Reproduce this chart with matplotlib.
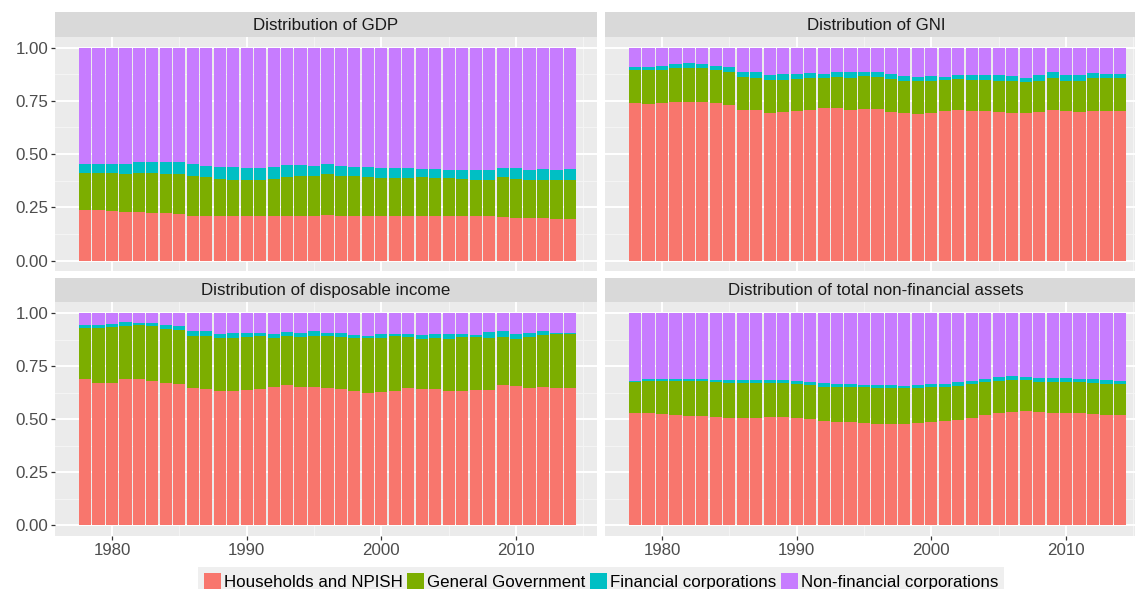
import matplotlib
matplotlib.use("Agg")
import matplotlib.pyplot as plt
from matplotlib.patches import Patch, Rectangle
import numpy as np

plt.rcParams['font.family'] = ['Liberation Sans', 'DejaVu Sans']

years = list(range(1978, 2015))
sectors = ["Households and NPISH", "General Government",
           "Financial corporations", "Non-financial corporations"]
colors = ["#F8766D", "#7CAE00", "#00BFC4", "#C77CFF"]
titles = ["Distribution of GDP", "Distribution of GNI",
          "Distribution of disposable income",
          "Distribution of total non-financial assets"]

# ---- Distribution of GDP
gdp_households = [0.239, 0.238, 0.233, 0.227, 0.227, 0.225, 0.222, 0.219, 0.211, 0.211,
                  0.207, 0.208, 0.208, 0.207, 0.208, 0.208, 0.211, 0.208, 0.213, 0.211,
                  0.211, 0.208, 0.208, 0.211, 0.208, 0.208, 0.208, 0.207, 0.207, 0.207,
                  0.207, 0.203, 0.200, 0.199, 0.199, 0.196, 0.194]
gdp_government = [0.174, 0.174, 0.179, 0.181, 0.186, 0.188, 0.186, 0.188, 0.185, 0.182,
                  0.176, 0.172, 0.171, 0.173, 0.177, 0.183, 0.185, 0.190, 0.191, 0.188,
                  0.185, 0.186, 0.180, 0.177, 0.180, 0.182, 0.180, 0.179, 0.178, 0.173,
                  0.173, 0.187, 0.185, 0.181, 0.181, 0.184, 0.186]
gdp_financial = [0.039, 0.040, 0.043, 0.047, 0.049, 0.052, 0.057, 0.055, 0.056, 0.053,
                 0.055, 0.058, 0.056, 0.055, 0.052, 0.057, 0.052, 0.046, 0.047, 0.045,
                 0.041, 0.043, 0.047, 0.045, 0.047, 0.042, 0.044, 0.041, 0.042, 0.046,
                 0.046, 0.043, 0.050, 0.047, 0.049, 0.047, 0.049]
gdp_nonfinancial = [0.548, 0.548, 0.545, 0.545, 0.538, 0.535, 0.535, 0.538, 0.548, 0.554,
                    0.562, 0.562, 0.565, 0.565, 0.563, 0.552, 0.552, 0.556, 0.549, 0.556,
                    0.563, 0.563, 0.565, 0.567, 0.565, 0.568, 0.568, 0.573, 0.573, 0.574,
                    0.574, 0.567, 0.565, 0.573, 0.571, 0.573, 0.571]

# ---- Distribution of GNI
gni_households = [0.740, 0.737, 0.739, 0.746, 0.746, 0.746, 0.739, 0.729, 0.709, 0.707,
                  0.693, 0.696, 0.704, 0.709, 0.714, 0.717, 0.709, 0.712, 0.711, 0.699,
                  0.693, 0.690, 0.694, 0.701, 0.709, 0.704, 0.701, 0.696, 0.694, 0.693,
                  0.696, 0.709, 0.701, 0.696, 0.704, 0.701, 0.701]
gni_government = [0.154, 0.157, 0.156, 0.157, 0.160, 0.157, 0.155, 0.157, 0.152, 0.152,
                  0.154, 0.152, 0.149, 0.149, 0.144, 0.145, 0.150, 0.153, 0.153, 0.155,
                  0.152, 0.155, 0.151, 0.146, 0.143, 0.143, 0.146, 0.149, 0.149, 0.147,
                  0.146, 0.147, 0.144, 0.149, 0.152, 0.156, 0.155]
gni_financial = [0.017, 0.017, 0.020, 0.022, 0.020, 0.022, 0.021, 0.023, 0.025, 0.024,
                 0.025, 0.027, 0.025, 0.023, 0.020, 0.025, 0.028, 0.022, 0.020, 0.023,
                 0.022, 0.017, 0.022, 0.015, 0.020, 0.023, 0.023, 0.025, 0.024, 0.019,
                 0.030, 0.028, 0.027, 0.027, 0.024, 0.018, 0.019]
gni_nonfinancial = [0.089, 0.089, 0.085, 0.075, 0.074, 0.075, 0.085, 0.091, 0.114, 0.117,
                    0.128, 0.125, 0.122, 0.119, 0.122, 0.113, 0.113, 0.113, 0.116, 0.123,
                    0.133, 0.138, 0.133, 0.138, 0.128, 0.130, 0.130, 0.130, 0.133, 0.141,
                    0.128, 0.116, 0.128, 0.128, 0.120, 0.125, 0.125]

# ---- Distribution of disposable income
dis_households = [0.688, 0.672, 0.670, 0.688, 0.688, 0.681, 0.669, 0.664, 0.646, 0.640,
                  0.630, 0.630, 0.636, 0.643, 0.649, 0.659, 0.649, 0.651, 0.644, 0.640,
                  0.634, 0.624, 0.627, 0.634, 0.644, 0.640, 0.640, 0.634, 0.633, 0.636,
                  0.636, 0.662, 0.656, 0.648, 0.651, 0.644, 0.644]
dis_government = [0.239, 0.257, 0.262, 0.250, 0.254, 0.256, 0.257, 0.254, 0.246, 0.252,
                  0.251, 0.251, 0.250, 0.248, 0.235, 0.232, 0.237, 0.240, 0.248, 0.246,
                  0.249, 0.257, 0.256, 0.257, 0.245, 0.239, 0.243, 0.245, 0.253, 0.250,
                  0.247, 0.227, 0.223, 0.238, 0.246, 0.258, 0.258]
dis_financial = [0.015, 0.014, 0.016, 0.019, 0.013, 0.016, 0.019, 0.020, 0.023, 0.023,
                 0.021, 0.025, 0.022, 0.017, 0.018, 0.020, 0.022, 0.022, 0.016, 0.020,
                 0.012, 0.011, 0.017, 0.009, 0.011, 0.019, 0.017, 0.024, 0.017, 0.012,
                 0.027, 0.024, 0.023, 0.019, 0.016, 0.006, 0.006]
dis_nonfinancial = [0.058, 0.057, 0.052, 0.043, 0.045, 0.047, 0.055, 0.062, 0.085, 0.085,
                    0.098, 0.094, 0.092, 0.092, 0.098, 0.089, 0.092, 0.087, 0.092, 0.094,
                    0.105, 0.108, 0.100, 0.100, 0.100, 0.102, 0.100, 0.097, 0.097, 0.102,
                    0.090, 0.087, 0.098, 0.095, 0.087, 0.092, 0.092]

# ---- Distribution of total non-financial assets
nfa_households = [0.528, 0.530, 0.525, 0.520, 0.515, 0.515, 0.510, 0.507, 0.507, 0.507,
                  0.509, 0.509, 0.505, 0.499, 0.491, 0.487, 0.487, 0.480, 0.478, 0.477,
                  0.478, 0.480, 0.488, 0.491, 0.496, 0.505, 0.517, 0.526, 0.533, 0.538,
                  0.531, 0.526, 0.530, 0.526, 0.525, 0.520, 0.520]
nfa_government = [0.145, 0.150, 0.155, 0.160, 0.165, 0.165, 0.163, 0.164, 0.164, 0.164,
                  0.162, 0.160, 0.162, 0.161, 0.162, 0.164, 0.164, 0.169, 0.168, 0.167,
                  0.166, 0.164, 0.161, 0.160, 0.158, 0.159, 0.156, 0.155, 0.150, 0.145,
                  0.144, 0.147, 0.145, 0.147, 0.146, 0.147, 0.144]
nfa_financial = [0.007, 0.008, 0.008, 0.008, 0.008, 0.008, 0.010, 0.012, 0.012, 0.012,
                 0.015, 0.014, 0.013, 0.013, 0.016, 0.013, 0.013, 0.013, 0.015, 0.015,
                 0.014, 0.015, 0.015, 0.014, 0.019, 0.016, 0.016, 0.016, 0.019, 0.017,
                 0.018, 0.020, 0.018, 0.018, 0.017, 0.019, 0.017]
nfa_nonfinancial = [0.320, 0.312, 0.312, 0.312, 0.312, 0.312, 0.317, 0.317, 0.317, 0.317,
                    0.314, 0.317, 0.320, 0.327, 0.331, 0.336, 0.336, 0.338, 0.339, 0.341,
                    0.342, 0.341, 0.336, 0.335, 0.327, 0.320, 0.311, 0.303, 0.298, 0.300,
                    0.307, 0.307, 0.307, 0.309, 0.312, 0.314, 0.319]

x_ticks = [1980, 1990, 2000, 2010]
y_ticks = [0.00, 0.25, 0.50, 0.75, 1.00]
y_ticklabels = ["0.00", "0.25", "0.50", "0.75", "1.00"]

panels = [
    [gdp_households, gdp_government, gdp_financial, gdp_nonfinancial],
    [gni_households, gni_government, gni_financial, gni_nonfinancial],
    [dis_households, dis_government, dis_financial, dis_nonfinancial],
    [nfa_households, nfa_government, nfa_financial, nfa_nonfinancial],
]

W, H = 1135, 589
fig = plt.figure(figsize=(W / 100, H / 100), dpi=100)

# pixel boxes (left, top, right, bottom)
col_x = [(55, 597), (605, 1147)]
row_y = [(36.9, 271.2), (302.4, 535.6)]
strip_h = 24.6

FS = 12.2
for i, data in enumerate(panels):
    r, c = divmod(i, 2)
    x0, x1 = col_x[c]
    y0, y1 = row_y[r]
    ax = fig.add_axes([x0 / W, 1 - y1 / H, (x1 - x0) / W, (y1 - y0) / H])
    ax.set_facecolor("#ebebeb")
    for s in ax.spines.values():
        s.set_visible(False)

    bottom = np.zeros(len(years))
    for vals, col in zip(data, colors):
        ax.bar(years, vals, width=0.9, bottom=bottom, color=col, linewidth=0)
        bottom = bottom + np.array(vals)

    ax.set_xticks(x_ticks)
    ax.set_xticks([1975, 1985, 1995, 2005, 2015], minor=True)
    ax.set_yticks(y_ticks)
    ax.set_yticks([0.125, 0.375, 0.625, 0.875], minor=True)
    ax.set_xlim(1975.77, 2016.01)
    ax.set_ylim(-0.05, 1.05)
    ax.grid(which="major", color="white", linewidth=1.4)
    ax.grid(which="minor", color="#f5f5f5", linewidth=0.7)
    ax.set_axisbelow(True)
    ax.tick_params(which="minor", length=0)
    ax.tick_params(which="major", length=3, width=0.9, color="#333333",
                   labelcolor="#4d4d4d", labelsize=FS, pad=2)
    if r == 0:
        ax.tick_params(axis="x", which="major", bottom=False, labelbottom=False)
    else:
        ax.set_xticklabels([str(t) for t in x_ticks])
    if c == 1:
        ax.tick_params(axis="y", which="major", left=False, labelleft=False)
    else:
        ax.set_yticklabels(y_ticklabels)

    # strip
    sax = fig.add_axes([x0 / W, 1 - y0 / H, (x1 - x0) / W, strip_h / H])
    sax.set_xlim(0, 1)
    sax.set_ylim(0, 1)
    sax.axis("off")
    sax.add_patch(Rectangle((0, 0), 1, 1, facecolor="#d9d9d9", edgecolor="none",
                            transform=sax.transAxes, clip_on=False))
    sax.text(0.5, 0.48, titles[i], ha="center", va="center", fontsize=FS,
             color="#1a1a1a", transform=sax.transAxes)

handles = [Patch(facecolor=col, edgecolor="none") for col in colors]
leg = fig.legend(handles, sectors, loc="lower center", bbox_to_anchor=(601 / W, -0.012),
                 ncol=4, frameon=True, fancybox=False, facecolor="#ebebeb",
                 edgecolor="#ebebeb", fontsize=FS, handlelength=1.0, handleheight=1.1,
                 handletextpad=0.2, columnspacing=0.25, borderpad=0.35, borderaxespad=0)
leg.get_frame().set_linewidth(0)

fig.savefig("out.png", dpi=100)
